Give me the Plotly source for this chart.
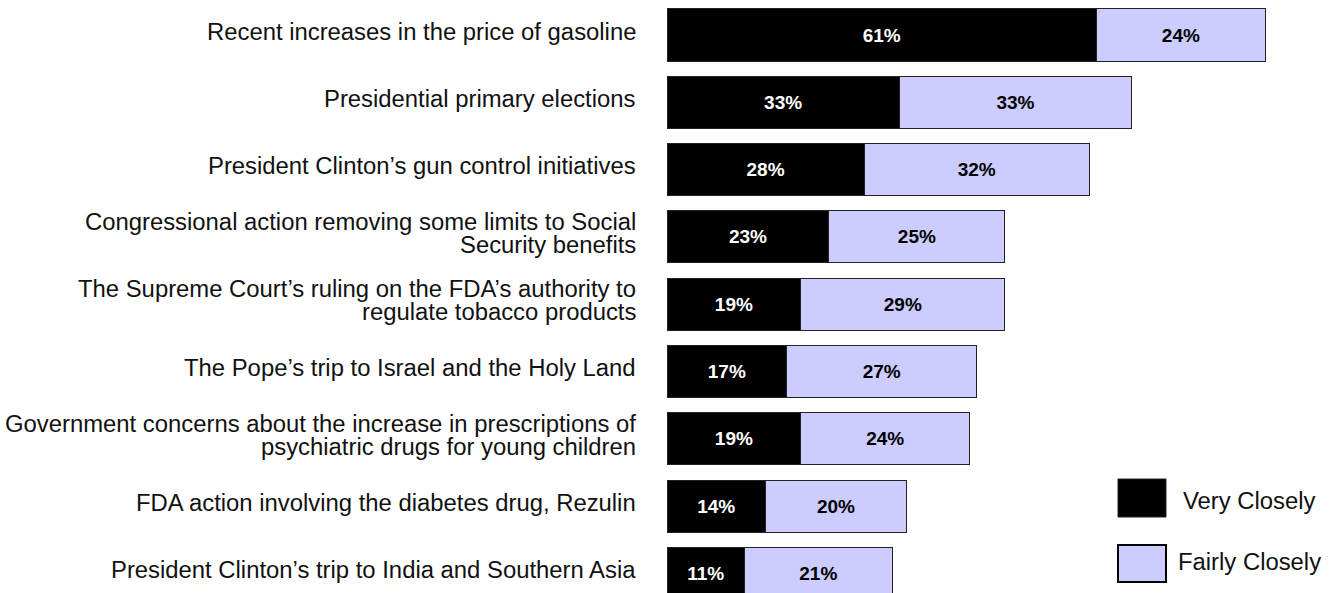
import plotly.graph_objects as go

categories = [
    "Recent increases in the price of gasoline",
    "Presidential primary elections",
    "President Clinton\u2019s gun control initiatives",
    "Congressional action removing some limits to Social<br>Security benefits",
    "The Supreme Court\u2019s ruling on the FDA\u2019s authority to<br>regulate tobacco products",
    "The Pope\u2019s trip to Israel and the Holy Land",
    "Government concerns about the increase in prescriptions of<br>psychiatric drugs for young children",
    "FDA action involving the diabetes drug, Rezulin",
    "President Clinton\u2019s trip to India and Southern Asia",
]
very_closely = [61, 33, 28, 23, 19, 17, 19, 14, 11]
fairly_closely = [24, 33, 32, 25, 29, 27, 24, 20, 21]
series_names = ["Very Closely", "Fairly Closely"]

W, H = 1337, 593
ML = 667
PW = W - ML
FONT = "Liberation Sans, Arial, sans-serif"
BLACK = "#000000"
LAV = "#CCCCFF"
EDGE = "#222222"
LABEL_SIZE = 23.85

y_idx = list(range(len(categories)))

fig = go.Figure()
fig.add_trace(go.Bar(
    y=y_idx, x=very_closely, orientation="h", name=series_names[0],
    marker=dict(color=BLACK, line=dict(color=EDGE, width=1)),
    text=[f"{v}%" for v in very_closely], textposition="inside",
    insidetextanchor="middle", textangle=0,
    textfont=dict(family=FONT, size=19, color="white", weight="bold"),
    hoverinfo="skip",
))
fig.add_trace(go.Bar(
    y=y_idx, x=fairly_closely, orientation="h", name=series_names[1],
    marker=dict(color=LAV, line=dict(color=EDGE, width=1)),
    text=[f"{v}%" for v in fairly_closely], textposition="inside",
    insidetextanchor="middle", textangle=0,
    textfont=dict(family=FONT, size=19, color="black", weight="bold"),
    hoverinfo="skip",
))

annotations = []
label_x = (638 - ML) / PW
for i, cat in enumerate(categories):
    lines = cat.split("<br>")
    n = len(lines)
    for j, line in enumerate(lines):
        shift = ((n - 1) / 2 - j) * 23
        annotations.append(dict(
            text=line, xref="paper", yref="y", x=label_x, y=i,
            xanchor="right", yanchor="middle", yshift=shift + 4,
            showarrow=False, font=dict(family=FONT, size=LABEL_SIZE, color="#111111"),
        ))

def px_x(p):
    return (p - ML) / PW

def px_y(p):
    return 1 - p / H

shapes = [
    dict(type="rect", xref="paper", yref="paper",
         x0=px_x(1118), x1=px_x(1166), y0=px_y(517), y1=px_y(479),
         fillcolor=BLACK, line=dict(color=EDGE, width=1)),
    dict(type="rect", xref="paper", yref="paper",
         x0=px_x(1118), x1=px_x(1166), y0=px_y(582), y1=px_y(545),
         fillcolor=LAV, line=dict(color=BLACK, width=2)),
]
annotations.append(dict(text=series_names[0], xref="paper", yref="paper",
                        x=px_x(1181), y=px_y(501), xanchor="left", yanchor="middle",
                        showarrow=False, font=dict(family=FONT, size=LABEL_SIZE, color="#111111")))
annotations.append(dict(text=series_names[1], xref="paper", yref="paper",
                        x=px_x(1176), y=px_y(561), xanchor="left", yanchor="middle",
                        showarrow=False, font=dict(family=FONT, size=LABEL_SIZE, color="#111111")))

px_per_pct = 7.04
px_per_row = 67.3
top_val = -35 / px_per_row
bot_val = top_val + H / px_per_row

fig.update_layout(
    width=W, height=H, barmode="stack", bargap=0.227,
    margin=dict(l=ML, r=0, t=0, b=0),
    paper_bgcolor="white", plot_bgcolor="white",
    showlegend=False,
    xaxis=dict(range=[0, PW / px_per_pct], visible=False, fixedrange=True),
    yaxis=dict(range=[bot_val, top_val], visible=False, fixedrange=True),
    annotations=annotations, shapes=shapes,
    uniformtext=dict(minsize=19, mode="show"),
)

fig.write_html("out.html", config={"displayModeBar": False})
